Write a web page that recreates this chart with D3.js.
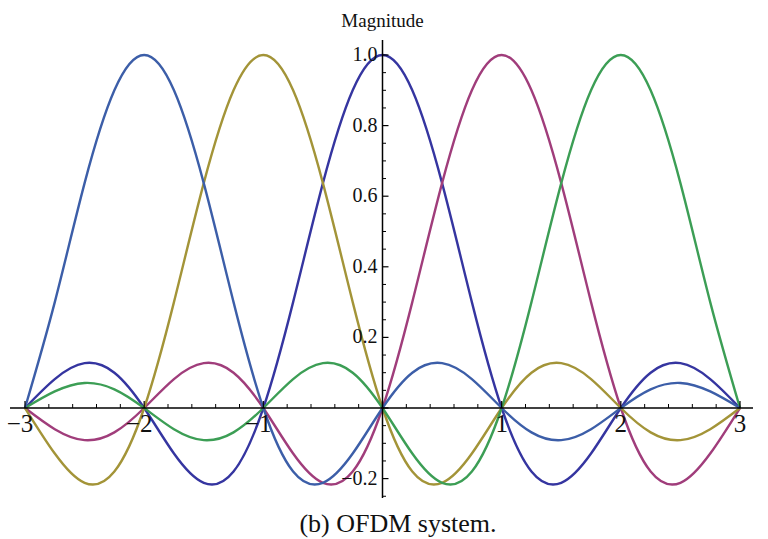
<!DOCTYPE html>
<html>
<head>
<meta charset="utf-8">
<script src="https://cdn.jsdelivr.net/npm/d3@7"></script>
<style>
  html, body { margin: 0; padding: 0; background: #fff; }
  svg { display: block; }
  svg text { font-family: "Liberation Serif", "Times New Roman", Times, "DejaVu Serif", serif; fill: #111; }
</style>
</head>
<body>
<svg id="chart" width="768" height="539"></svg>
<script>
// Sample positions (x) read along the horizontal axis
const xs = [-3, -2.75, -2.5, -2.25, -2, -1.75, -1.5, -1.25, -1, -0.75, -0.5, -0.25, 0,
            0.25, 0.5, 0.75, 1, 1.25, 1.5, 1.75, 2, 2.25, 2.5, 2.75, 3];

// Subcarrier magnitudes at each x
const carrierM2 = [0, 0.300, 0.637, 0.900, 1, 0.900, 0.637, 0.300, 0, -0.180, -0.212, -0.129, 0,
                   0.100, 0.127, 0.082, 0, -0.069, -0.091, -0.060, 0, 0.053, 0.071, 0.047, 0];
const carrierM1 = [0, -0.129, -0.212, -0.180, 0, 0.300, 0.637, 0.900, 1, 0.900, 0.637, 0.300, 0,
                   -0.180, -0.212, -0.129, 0, 0.100, 0.127, 0.082, 0, -0.069, -0.091, -0.060, 0];
const carrier0  = [0, 0.082, 0.127, 0.100, 0, -0.129, -0.212, -0.180, 0, 0.300, 0.637, 0.900, 1,
                   0.900, 0.637, 0.300, 0, -0.180, -0.212, -0.129, 0, 0.100, 0.127, 0.082, 0];
const carrierP1 = [0, -0.060, -0.091, -0.069, 0, 0.082, 0.127, 0.100, 0, -0.129, -0.212, -0.180, 0,
                   0.300, 0.637, 0.900, 1, 0.900, 0.637, 0.300, 0, -0.180, -0.212, -0.129, 0];
const carrierP2 = [0, 0.047, 0.071, 0.053, 0, -0.060, -0.091, -0.069, 0, 0.082, 0.127, 0.100, 0,
                   -0.129, -0.212, -0.180, 0, 0.300, 0.637, 0.900, 1, 0.900, 0.637, 0.300, 0];

const seriesNames = ["carrier0", "carrierP1", "carrierM1", "carrierP2", "carrierM2"];
const seriesColors = ["#3535a0", "#a03d7b", "#a39438", "#3c9e55", "#3c5ea8"];
const seriesValues = [carrier0, carrierP1, carrierM1, carrierP2, carrierM2];

const xTickLabels = [-3, -2, -1, 1, 2, 3];
const yTickLabels = [-0.2, 0.2, 0.4, 0.6, 0.8, 1.0];
const yAxisTitle = "Magnitude";
const caption = "(b) OFDM system.";

const svg = d3.select("#chart");
const x = d3.scaleLinear().domain([-3, 3]).range([25, 740]);
const y = d3.scaleLinear().domain([0, 1]).range([408, 55]);

const fmtMinus = v => String(v).replace("-", "\u2212");

// curves
const line = d3.line().x((d, i) => x(xs[i])).y(d => y(d)).curve(d3.curveNatural);
svg.append("g").selectAll("path")
  .data(seriesValues)
  .join("path")
  .attr("d", d => line(d))
  .attr("fill", "none")
  .attr("stroke", (d, i) => seriesColors[i])
  .attr("stroke-width", 2.4)
  .attr("stroke-linejoin", "round");

// x axis
const xg = svg.append("g");
xg.append("line").attr("x1", 10).attr("x2", 753).attr("y1", y(0)).attr("y2", y(0))
  .attr("stroke", "#000").attr("stroke-width", 1.5);
const xMinor = d3.range(-15, 16).map(i => i / 5).filter(v => Math.abs(v - Math.round(v)) > 1e-6);
xg.selectAll("line.minor").data(xMinor).join("line").attr("class", "minor")
  .attr("x1", d => x(d)).attr("x2", d => x(d)).attr("y1", y(0)).attr("y2", y(0) - 4)
  .attr("stroke", "#000").attr("stroke-width", 1);
xg.selectAll("line.major").data(d3.range(-3, 4)).join("line").attr("class", "major")
  .attr("x1", d => x(d)).attr("x2", d => x(d)).attr("y1", y(0)).attr("y2", y(0) - 7)
  .attr("stroke", "#000").attr("stroke-width", 1.2);
xg.selectAll("text").data(xTickLabels).join("text")
  .attr("x", d => x(d) + (d < 0 ? -5 : 0)).attr("y", 432)
  .attr("text-anchor", "middle").attr("font-size", 25)
  .text(d => fmtMinus(d));

// y axis
const yg = svg.append("g");
yg.append("line").attr("x1", x(0)).attr("x2", x(0)).attr("y1", 40).attr("y2", 498)
  .attr("stroke", "#000").attr("stroke-width", 1.5);
const yMinor = d3.range(-5, 21).map(i => i / 20).filter(v => Math.abs(v * 5 - Math.round(v * 5)) > 1e-6);
yg.selectAll("line.minor").data(yMinor).join("line").attr("class", "minor")
  .attr("x1", x(0)).attr("x2", x(0) + 3.5).attr("y1", d => y(d)).attr("y2", d => y(d))
  .attr("stroke", "#000").attr("stroke-width", 1);
yg.selectAll("line.major").data([-0.2, 0, 0.2, 0.4, 0.6, 0.8, 1.0]).join("line").attr("class", "major")
  .attr("x1", x(0)).attr("x2", x(0) + 6).attr("y1", d => y(d)).attr("y2", d => y(d))
  .attr("stroke", "#000").attr("stroke-width", 1.2);
yg.selectAll("text").data(yTickLabels).join("text")
  .attr("x", x(0) - 5).attr("y", d => y(d) + 6)
  .attr("text-anchor", "end").attr("font-size", 20)
  .text(d => fmtMinus(d.toFixed(1)));

svg.append("text").attr("x", x(0)).attr("y", 27).attr("text-anchor", "middle")
  .attr("font-size", 19).text(yAxisTitle);

svg.append("text").attr("x", 398).attr("y", 532).attr("text-anchor", "middle")
  .attr("font-size", 26).text(caption);
</script>
</body>
</html>
